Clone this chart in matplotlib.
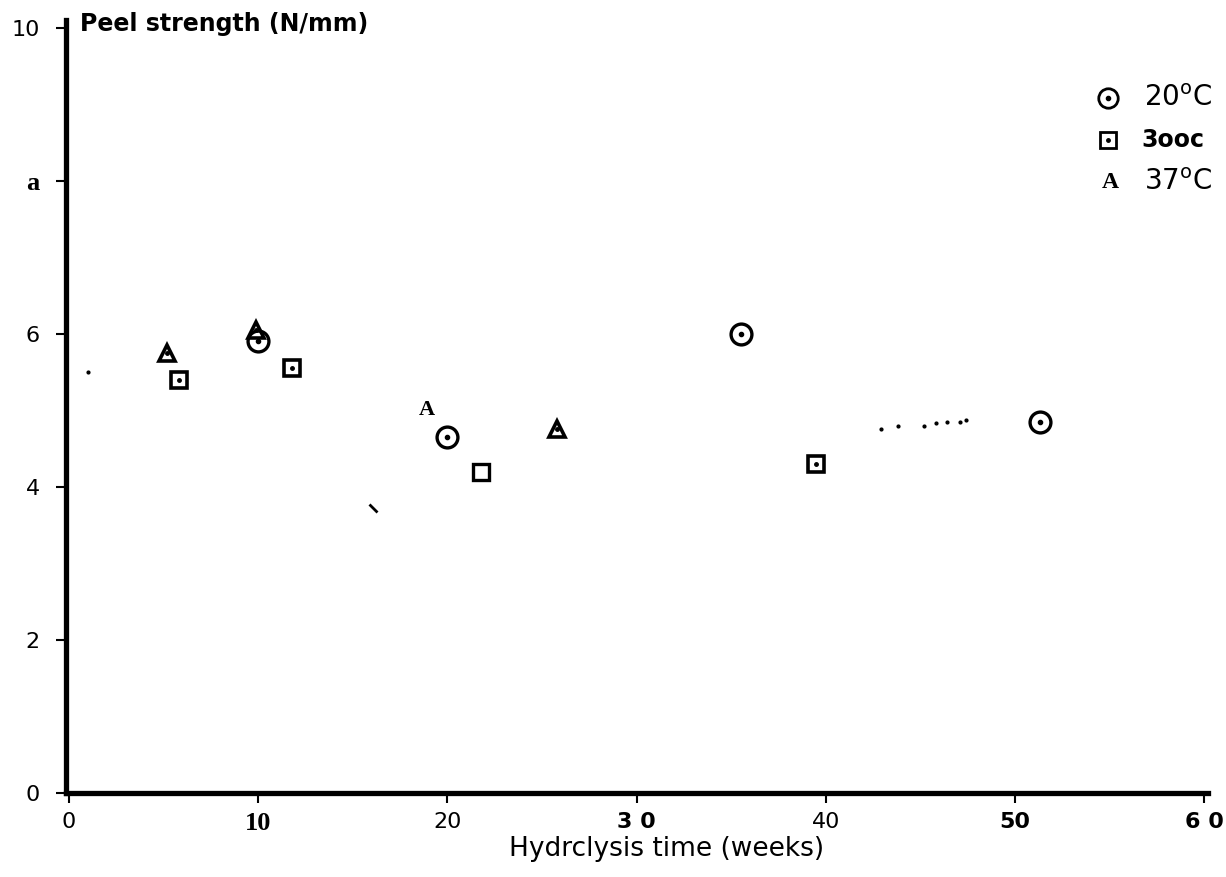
import matplotlib
matplotlib.use("Agg")
import matplotlib.pyplot as plt
from matplotlib.markers import MarkerStyle
from matplotlib.transforms import Affine2D

# data (weeks, N/mm)
x_20 = [10.0, 20.0, 35.5, 51.3]
y_20 = [5.9, 4.65, 6.0, 4.85]

x_30 = [5.8, 11.8, 39.5]
y_30 = [5.4, 5.55, 4.3]

# open rectangle without the centre dot
x_30_open = [21.8]
y_30_open = [4.2]

x_37 = [5.2, 9.9, 25.8]
y_37 = [5.75, 6.05, 4.75]

# triangle that came out of the scan as a letter "A"
x_37_letter = [18.9]
y_37_letter = [5.0]

# stray specks left in the scan
speck_x = [1.0, 42.9, 43.8, 45.2, 45.8, 46.4, 47.1, 47.4]
speck_y = [5.5, 4.75, 4.79, 4.80, 4.84, 4.85, 4.85, 4.87]
stroke_x = [16.1]
stroke_y = [3.72]

xticks = [0, 10, 20, 30, 40, 50, 60]
xlabels = ["0", "10", "20", "3 0", "40", "50", "6 0"]
yticks = [0, 2, 4, 6, 8, 10]
ylabels = ["0", "2", "4", "6", "a", "10"]

fig = plt.figure(figsize=(12.26, 8.77), dpi=100)
ax = fig.add_axes([66 / 1226, 84 / 877, 1142 / 1226, 773 / 877])

# 20 C : circle with a dot
ax.plot(x_20, y_20, "o", ms=15, mfc="none", mec="black", mew=2.4)
ax.plot(x_20, y_20, "o", ms=3, color="black")

# 30 C : square with a dot
ax.plot(x_30, y_30, "s", ms=12, mfc="none", mec="black", mew=2.6)
ax.plot(x_30, y_30, "o", ms=2.5, color="black")
ax.plot(x_30_open, y_30_open, "s", ms=11, mfc="none", mec="black", mew=2.4)

# 37 C : triangle with a dot
ax.plot(x_37, y_37, "^", ms=11, mfc="none", mec="black", mew=2.6)
ax.plot(x_37, y_37, "o", ms=2.5, color="black")
for xx, yy in zip(x_37_letter, y_37_letter):
    ax.text(xx, yy, "A", family="Liberation Serif", fontweight="bold",
            fontsize=16, ha="center", va="center")

ax.plot(speck_x, speck_y, "o", ms=2, color="black", ls="none")
stroke = MarkerStyle("_", transform=Affine2D().rotate_deg(-40))
ax.plot(stroke_x, stroke_y, marker=stroke, ms=8, mew=2, color="black", ls="none")

# axes
ax.set_xlim(-0.15, 60.2)
ax.set_ylim(0, 10.1)
for s in ["top", "right"]:
    ax.spines[s].set_visible(False)
for s in ["left", "bottom"]:
    ax.spines[s].set_linewidth(3.8)

ax.set_xticks(xticks)
ax.set_xticklabels(xlabels)
ax.set_yticks(yticks)
ax.set_yticklabels(ylabels)
ax.tick_params(axis="both", direction="out", length=7, width=1.5, pad=7)
ax.tick_params(axis="y", pad=12)

xfonts = ["DejaVu Sans", "Liberation Serif", "DejaVu Sans", "DejaVu Sans",
          "DejaVu Sans", "DejaVu Sans", "DejaVu Sans"]
xweights = ["normal", "bold", "normal", "bold", "normal", "bold", "bold"]
xsizes = [16, 19, 16, 16, 16, 16, 16]
for lab, f, w, sz in zip(ax.get_xticklabels(), xfonts, xweights, xsizes):
    lab.set_family(f)
    lab.set_fontweight(w)
    lab.set_fontsize(sz)
for lab in ax.get_yticklabels():
    lab.set_fontsize(16)
    if lab.get_text() == "a":
        lab.set_family("Liberation Serif")
        lab.set_fontweight("bold")
        lab.set_fontsize(19)

ax.set_xlabel("Hydrclysis time (weeks)", fontsize=19)
ax.xaxis.set_label_coords(0.526, -0.055)
ax.text(0.012, 0.995, "Peel strength (N/mm)", transform=ax.transAxes,
        fontsize=17, fontweight="bold", va="center", ha="left")

# legend, drawn by hand like in the scan
ax.plot(0.912, 0.899, "o", ms=14, mfc="none", mec="black", mew=2, transform=ax.transAxes)
ax.plot(0.912, 0.899, "o", ms=3, color="black", transform=ax.transAxes)
ax.text(0.944, 0.899, r"20$^{\mathrm{o}}$C", transform=ax.transAxes,
        fontsize=20, va="center", ha="left")
ax.plot(0.912, 0.845, "s", ms=11, mfc="none", mec="black", mew=2, transform=ax.transAxes)
ax.plot(0.912, 0.845, "o", ms=2.5, color="black", transform=ax.transAxes)
ax.text(0.942, 0.845, "3ooc", transform=ax.transAxes, fontsize=17,
        fontweight="bold", va="center", ha="left")
ax.text(0.914, 0.79, "A", transform=ax.transAxes, family="Liberation Serif",
        fontweight="bold", fontsize=17, va="center", ha="center")
ax.text(0.944, 0.79, r"37$^{\mathrm{o}}$C", transform=ax.transAxes,
        fontsize=20, va="center", ha="left")

fig.savefig("out.png", dpi=100)
